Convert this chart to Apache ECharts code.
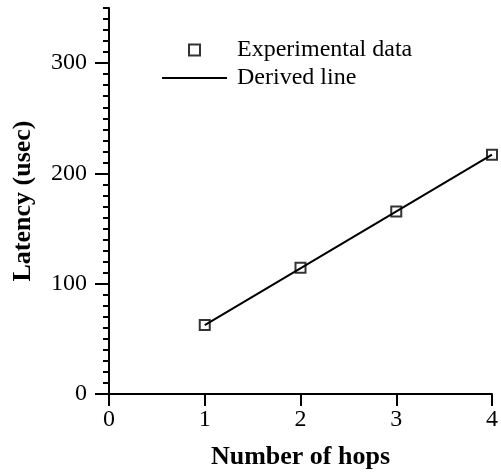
<!DOCTYPE html>
<html>
<head>
<meta charset="utf-8">
<script src="https://cdn.jsdelivr.net/npm/echarts@6/dist/echarts.min.js"></script>
<style>
  html, body { margin: 0; padding: 0; background: #fff; }
  #chart { width: 501px; height: 476px; }
</style>
</head>
<body>
<div id="chart"></div>
<script>
// Measured latency per hop count and the fitted line through it
const hops = [1, 2, 3, 4];
const latencyMeasured = [62.5, 114.5, 165.5, 217];
const fitHops = [1, 4];
const fitLatency = [62.5, 217];

const yMajorTicks = [0, 100, 200, 300];
const xTicks = [0, 1, 2, 3, 4];

const FONT = 'Liberation Serif';

const chart = echarts.init(document.getElementById('chart'), null, { renderer: 'canvas' });

const measuredData = hops.map((h, i) => [h, latencyMeasured[i]]);
const fitData = fitHops.map((h, i) => [h, fitLatency[i]]);

const commonY = { type: 'value', min: 0, max: 350, position: 'left', splitLine: { show: false } };

chart.setOption({
  animation: false,
  backgroundColor: '#fff',
  grid: { left: 109, right: 8, top: 8, bottom: 82, containLabel: false },
  legend: {
    orient: 'vertical',
    left: 157,
    top: 33,
    itemWidth: 65,
    itemHeight: 11,
    itemGap: 4,
    symbolKeepAspect: true,
    selectedMode: false,
    textStyle: { fontFamily: FONT, fontSize: 24, color: '#000', padding: [0, 0, 0, 5] },
    data: [
      // square outline centred in the icon box
      { name: 'Experimental data', icon: 'path://M0,0H10V10H0Z',
        itemStyle: { color: 'transparent', borderColor: '#000', borderWidth: 2 } },
      // thin bar standing in for the line sample
      { name: 'Derived line', icon: 'path://M0,0H65V2H0Z',
        itemStyle: { color: '#000', borderWidth: 0 } }
    ]
  },
  xAxis: {
    type: 'value',
    min: 0, max: 4, interval: 1,
    name: 'Number of hops',
    nameLocation: 'middle',
    nameGap: 50,
    nameTextStyle: { fontFamily: FONT, fontSize: 26, fontWeight: 'bold', color: '#000' },
    axisLine: { onZero: false, lineStyle: { color: '#000', width: 2 } },
    axisTick: { show: true, inside: false, length: 12, lineStyle: { color: '#000', width: 2 } },
    axisLabel: { margin: 14, fontFamily: FONT, fontSize: 24, color: '#000',
      customValues: xTicks },
    splitLine: { show: false }
  },
  yAxis: [
    Object.assign({}, commonY, {
      interval: 10,
      name: 'Latency (usec)',
      nameLocation: 'middle',
      nameGap: 73,
      nameTextStyle: { fontFamily: FONT, fontSize: 26, fontWeight: 'bold', color: '#000' },
      axisLine: { show: true, onZero: false, lineStyle: { color: '#000', width: 2 } },
      axisTick: { show: true, inside: false, length: 6, lineStyle: { color: '#000', width: 2 } },
      axisLabel: { margin: 22, fontFamily: FONT, fontSize: 24, color: '#000',
        customValues: yMajorTicks }
    }),
    Object.assign({}, commonY, {
      interval: 100,
      axisLine: { show: false },
      axisTick: { show: true, inside: false, length: 14, lineStyle: { color: '#000', width: 2 },
        customValues: yMajorTicks },
      axisLabel: { show: false }
    })
  ],
  series: [
    {
      name: 'Derived line',
      type: 'line',
      data: fitData,
      color: '#000',
      showSymbol: false,
      symbol: 'none',
      lineStyle: { color: '#000', width: 2 },
      z: 2
    },
    {
      name: 'Experimental data',
      type: 'scatter',
      data: measuredData,
      symbol: 'rect',
      symbolSize: 10,
      itemStyle: { color: 'transparent', borderColor: '#000', borderWidth: 2 },
      z: 3
    }
  ]
});
</script>
</body>
</html>
